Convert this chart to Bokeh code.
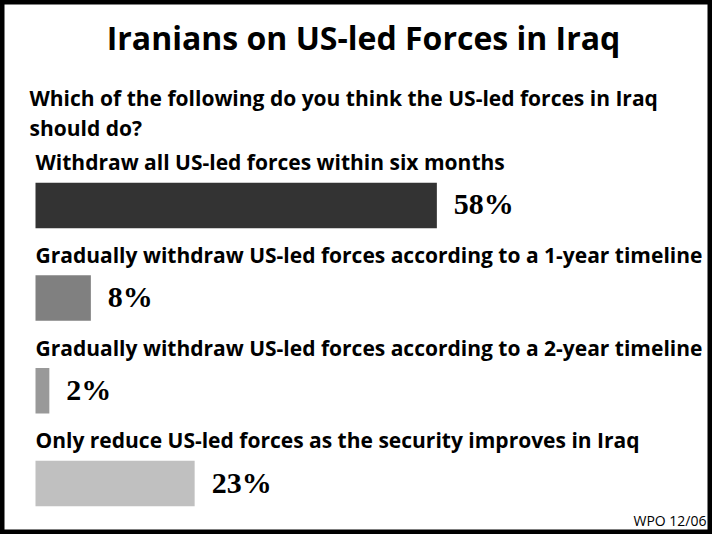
from bokeh.plotting import figure
from bokeh.models import Range1d, ColumnDataSource
from bokeh.core.properties import value
from bokeh.embed import file_html
from bokeh.resources import INLINE

# ---- data ----
title = "Iranians on US-led Forces in Iraq"
question = ["Which of the following do you think the US-led forces in Iraq", "should do?"]
categories = [
    "Withdraw all US-led forces within six months",
    "Gradually withdraw US-led forces according to a 1-year timeline",
    "Gradually withdraw US-led forces according to a 2-year timeline",
    "Only reduce US-led forces as the security improves in Iraq",
]
values = [58, 8, 2, 23]
bar_colors = ["#333333", "#808080", "#999999", "#c0c0c0"]
source_note = "WPO 12/06"

# ---- layout (pixels within figure) ----
W, H = 712, 534
PX = 6.92          # pixels per percentage point
X0 = 35            # pixel position of 0%
def xd(px):
    return (px - X0) / PX

p = figure(width=W, height=H, output_backend="svg", toolbar_location=None,
           x_range=Range1d(xd(0), xd(W)), y_range=Range1d(H, 0),
           min_border=0)
p.axis.visible = False
p.grid.visible = False
p.outline_line_color = "black"
p.outline_line_width = 8
p.background_fill_color = "white"
p.border_fill_color = "white"

ROW0 = 204.9       # center of first bar (px from top)
STEP = 92.7
BAR_H = 45.5
centers = [ROW0 + i * STEP for i in range(len(values))]

src = ColumnDataSource(dict(
    left=[0] * len(values), right=values,
    top=[c - BAR_H / 2 for c in centers], bottom=[c + BAR_H / 2 for c in centers],
    color=bar_colors, cat=categories,
    cat_y=[c - BAR_H / 2 - 20.5 for c in centers],
    pct=[f"{v}%" for v in values],
    pct_y=[c - 1.5 for c in centers],
))

p.quad(left="left", right="right", top="top", bottom="bottom",
       fill_color="color", line_color=None, source=src)

# category labels
p.text(x=xd(35), y="cat_y", text="cat", source=src,
       text_font=value("Open Sans"), text_font_style="bold", text_font_size="21px",
       text_color="black", text_baseline="alphabetic", text_align="left")

# percentage labels
p.text(x="right", y="pct_y", text="pct", source=src, x_offset=17,
       text_font=value("Liberation Serif"), text_font_style="bold", text_font_size="30px",
       text_color="black", text_baseline="alphabetic", text_align="left")

# title
p.text(x=[xd(363)], y=[37], text=[title],
       text_font=value("Open Sans"), text_font_style="bold", text_font_size="32px",
       text_color="black", text_baseline="alphabetic", text_align="center")

# question
p.text(x=[xd(29)] * 2, y=[97.5, 127.5], text=question,
       text_font=value("Open Sans"), text_font_style="bold", text_font_size="21px",
       text_color="black", text_baseline="alphabetic", text_align="left")

# source note
p.text(x=[xd(706)], y=[520], text=[source_note],
       text_font=value("Open Sans"), text_font_size="14px",
       text_color="black", text_baseline="alphabetic", text_align="right")

open("out.html", "w").write(file_html(p, INLINE))
